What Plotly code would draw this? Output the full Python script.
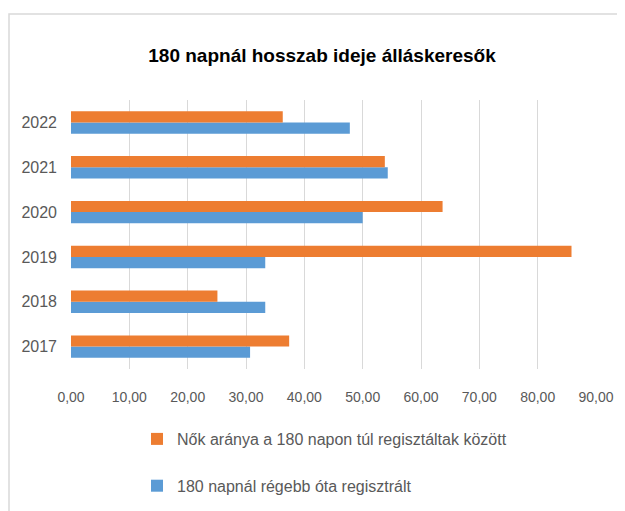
import plotly.graph_objects as go

years = ["2017", "2018", "2019", "2020", "2021", "2022"]
women_share = [37.4, 25.1, 85.8, 63.7, 53.8, 36.3]
long_term = [30.7, 33.3, 33.3, 50.0, 54.3, 47.8]
name_women = "Nők aránya a 180 napon túl regisztáltak között"
name_long = "180 napnál régebb óta regisztrált"
title_text = "180 napnál hosszab ideje álláskeresők"
x_ticks = [0, 10, 20, 30, 40, 50, 60, 70, 80, 90]

FONT = "Liberation Sans Narrow, Arial Narrow, Liberation Sans, Arial, sans-serif"
GRAY = "#595959"

W, H = 625, 511
OFF = 8  # page body margin offset
L, T = 71 - OFF, 100 - OFF
R = W - (596 - OFF)
B = H - (369 - OFF)
pw = W - L - R
ph = H - T - B

fig = go.Figure()
fig.add_trace(go.Bar(
    y=years, x=long_term, name=name_long, orientation="h",
    marker=dict(color="#5B9BD5", line=dict(width=0)),
    legendgroup="b", legendrank=2,
))
fig.add_trace(go.Bar(
    y=years, x=women_share, name=name_women, orientation="h",
    marker=dict(color="#ED7D31", line=dict(width=0)),
    legendgroup="a", legendrank=1,
))

def px_x(px):
    return (px - OFF - L) / pw

def px_y(py):
    return (H - B - (py - OFF)) / ph

fig.update_layout(
    width=W, height=H,
    margin=dict(l=L, r=R, t=T, b=B, autoexpand=False),
    paper_bgcolor="white", plot_bgcolor="white",
    separators=", ",
    barmode="group", bargap=0.5, bargroupgap=0,
    font=dict(family=FONT, size=16, color=GRAY),
    title=dict(
        text="<b>" + title_text + "</b>",
        x=(322 - OFF) / W, xanchor="center",
        y=1 - (55 - OFF) / H, yanchor="middle",
        font=dict(family=FONT, size=19, color="#000000"),
    ),
    xaxis=dict(
        range=[0, 90], tickvals=x_ticks, tickformat=".2f",
        showgrid=True, gridcolor="#d9d9d9", gridwidth=1,
        zeroline=False, showline=False, ticks="",
        ticklabelstandoff=18, automargin=False,
        tickfont=dict(family=FONT, size=14, color=GRAY),
        fixedrange=True,
    ),
    yaxis=dict(
        type="category", categoryorder="array", categoryarray=years,
        showgrid=False, zeroline=False, showline=False, ticks="",
        ticklabelstandoff=13, automargin=False,
        tickfont=dict(family=FONT, size=16, color=GRAY),
        fixedrange=True,
    ),
    legend=dict(
        orientation="v",
        xref="container", yref="container",
        x=(137 - OFF) / W, xanchor="left",
        y=1 - (422 - OFF) / H, yanchor="top",
        tracegroupgap=23,
        font=dict(family=FONT, size=16, color=GRAY),
        itemwidth=30,
        bgcolor="rgba(0,0,0,0)",
    ),
    showlegend=True,
    shapes=[
        dict(type="rect", xref="paper", yref="paper",
             x0=px_x(9), x1=px_x(W + 30), y0=px_y(H + 30), y1=px_y(14),
             line=dict(color="#d9d9d9", width=1.5), fillcolor="rgba(0,0,0,0)",
             layer="below"),
    ],
)

fig.write_html("out.html")
